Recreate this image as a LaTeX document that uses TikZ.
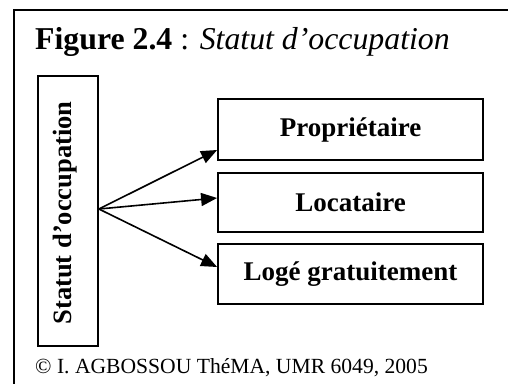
\documentclass[tikz,border=0pt]{standalone}
\usepackage{fontspec}
\setmainfont{Liberation Serif}
\usetikzlibrary{arrows.meta,calc}
\begin{document}
\begin{tikzpicture}[x=1pt,y=-1pt,
  frame/.style={draw=black,line width=1.5pt},
  catbox/.style={draw=black,line width=1.8pt,rectangle,inner sep=0pt,
    minimum width=265pt,font=\fontsize{27}{30}\selectfont\bfseries},
  link/.style={draw=black,line width=1.6pt,-{Triangle[length=16pt,width=13pt]}}]
\useasboundingbox (0,0) rectangle (508,383);
% outer frame, running past the right and bottom edges
\draw[frame] (14,400) -- (14,10) -- (520,10);
% heading
\node[anchor=base west,inner sep=0pt,font=\fontsize{31.8}{36}\selectfont] (title) at (35,49)
  {\textbf{Figure 2.4} : \textit{Statut d’occupation}};
% vertical category box
\node[draw=black,line width=1.8pt,rectangle,inner sep=0pt,minimum width=60pt,minimum height=270pt] (stat) at (68,211) {};
\node[rotate=90,inner sep=0pt,font=\fontsize{26.5}{30}\selectfont\bfseries] (statlabel) at (65,213) {Statut d’occupation};
% target boxes
\node[catbox,minimum height=61pt] (prop) at (350.5,129.5) {Propriétaire};
\node[catbox,minimum height=59pt] (loc) at (350.5,202.5) {Locataire};
\node[catbox,minimum height=60pt] (loge) at (350.5,274) {Logé gratuitement};
% connectors
\coordinate (src) at ($(stat.east)+(0,-2)$);
\draw[link] (src) -- ($(prop.west)+(0,20.5)$);
\draw[link] (src) -- ($(loc.west)+(0,-4.5)$);
\draw[link] (src) -- ($(loge.west)+(0,-7)$);
% credit line
\node[anchor=base west,inner sep=0pt,font=\fontsize{21.6}{24}\selectfont] (credit) at (35,373)
  {© I. AGBOSSOU ThéMA, UMR 6049, 2005};
\end{tikzpicture}
\end{document}
